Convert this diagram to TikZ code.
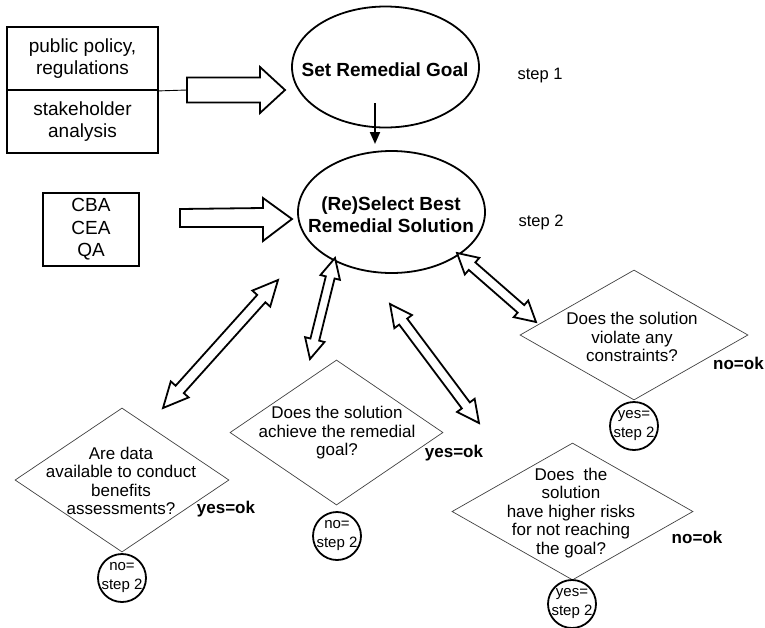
\documentclass[tikz,border=0pt]{standalone}
\usepackage{fontspec}
\setmainfont{Liberation Sans}
\usetikzlibrary{shapes.geometric,calc,arrows.meta}

% hollow two-headed block arrow between two points:
% #1,#2 end points, #3 head length, #4 shaft half width, #5 head half width
\newcommand\dblarrow[5]{%
  \draw[blk] (#1)
    -- ($(#1)!#3!(#2)!#5!90:(#2)$) -- ($(#1)!#3!(#2)!#4!90:(#2)$)
    -- ($(#2)!#3!(#1)!#4!-90:(#1)$) -- ($(#2)!#3!(#1)!#5!-90:(#1)$)
    -- (#2)
    -- ($(#2)!#3!(#1)!#5!90:(#1)$) -- ($(#2)!#3!(#1)!#4!90:(#1)$)
    -- ($(#1)!#3!(#2)!#4!-90:(#2)$) -- ($(#1)!#3!(#2)!#5!-90:(#2)$)
    -- cycle;}

\tikzset{
  inbox/.style={draw, line width=1.8pt, minimum width=151pt, minimum height=63pt,
    inner sep=0pt, align=center, font=\fontsize{19}{21.5}\selectfont},
  oval/.style={draw, ellipse, line width=1.8pt, inner sep=0pt},
  ovaltext/.style={align=center, inner sep=0pt, font=\fontsize{19}{22}\selectfont\bfseries},
  steplabel/.style={inner sep=0pt, font=\fontsize{16.5}{19}\selectfont},
  blk/.style={draw, line width=1.8pt, line join=miter, fill=white},
  dia/.style={draw=black!75, diamond, line width=0.7pt, inner sep=0pt},
  qtext/.style={align=center, inner sep=0pt, font=\fontsize{17}{18.5}\selectfont},
  verdict/.style={inner sep=0pt, font=\fontsize{17}{20}\selectfont\bfseries},
  ring/.style={draw, circle, line width=1.8pt, minimum size=48pt, inner sep=0pt},
  ringtext/.style={align=center, inner sep=0pt, font=\fontsize{15}{19}\selectfont},
}

\begin{document}
\begin{tikzpicture}[x=1pt, y=-1pt]
\useasboundingbox (0,0) rectangle (765,627);

% --- inputs to step 1
\node[inbox] (policy) at (82.5,58.5) {public policy,\\regulations};
\node[inbox] (stake)  at (82.5,121.5) {stakeholder\\analysis};

% --- step 1 goal
\node[oval, minimum width=187pt, minimum height=121pt] (goal) at (385.5,67) {};
\node[ovaltext] (goaltext) at (385,70) {Set Remedial Goal};
\node[steplabel] (step1) at (540,76) {step 1};

% --- step 2 selection
\node[oval, minimum width=187pt, minimum height=122pt] (sel) at (391.5,212) {};
\node[ovaltext] (seltext) at (391,215) {(Re)Select Best\\Remedial Solution};
\node[steplabel] (step2) at (541,222) {step 2};

% --- analysis methods
\node[inbox, minimum width=96pt, minimum height=73pt, font=\fontsize{19}{22.5}\selectfont]
  (methods) at (91,229.5) {CBA\\CEA\\QA};

% --- block arrow: inputs -> goal
\coordinate (t1) at (187,90);
\coordinate (h1) at (285,90);
\draw[line width=0.9pt] (policy.south east) -- (t1);
\draw[blk] ($(t1)+(0,12.5)$) -- ($(h1)+(-25,12.5)$) -- ($(h1)+(-25,23)$) -- (h1)
  -- ($(h1)+(-25,-23)$) -- ($(h1)+(-25,-12.5)$) -- ($(t1)+(0,-12.5)$) -- cycle;

% --- block arrow: methods -> selection
\coordinate (t2) at (180,218);
\coordinate (h2) at (292,219);
\draw[blk] ($(t2)+(0,9)$) -- ($(h2)+(-29,8)$) -- ($(h2)+(-29,22)$) -- (h2)
  -- ($(h2)+(-29,-21)$) -- ($(h2)+(-29,-11)$) -- ($(t2)+(0,-9)$) -- cycle;

% --- goal -> selection
\coordinate (va) at (375,103);
\coordinate (vb) at (375,144);
\draw[line width=2pt, -{Triangle[length=12pt,width=10pt]}] (va) -- (vb);

% --- decision diamonds
\node[dia, minimum width=214pt, minimum height=144pt] (d1) at (122,480) {};
\node[qtext] (q1) at (121,481) {Are data\\available to conduct\\benefits\\assessments?};
\node[verdict] (v1) at (226,509) {yes=ok};
\node[ring] (r1) at (122,578) {};
\node[ringtext] (r1text) at (122,578) {no=\\step 2};

\node[dia, minimum width=213pt, minimum height=145pt] (d2) at (336.5,432.5) {};
\node[qtext] (q2) at (337,433) {Does the solution\\achieve the remedial\\goal?};
\node[verdict] (v2) at (454,453) {yes=ok};
\node[ring] (r2) at (337,536) {};
\node[ringtext] (r2text) at (337,536) {no=\\step 2};

\node[dia, minimum width=228pt, minimum height=130pt] (d3) at (634,335) {};
\node[qtext] (q3) at (632,337) {Does the solution\\violate any\\constraints?};
\node[verdict, anchor=west] (v3) at (713,363) {no=ok};
\node[ring] (r3) at (634,426) {};
\node[ringtext] (r3text) at (634,426) {yes=\\step 2};

\node[dia, minimum width=241pt, minimum height=137pt] (d4) at (572.5,511.5) {};
\node[qtext] (q4) at (571,513) {Does\ \ the\\solution\\have higher risks\\for not reaching\\the goal?};
\node[verdict] (v4) at (697,537) {no=ok};
\node[ring] (r4) at (572,604) {};
\node[ringtext] (r4text) at (572,604) {yes=\\step 2};

% --- two-way links between selection and the checks
\coordinate (a1s) at (278,280);
\coordinate (a1e) at (163,408);
\dblarrow{a1s}{a1e}{25pt}{5.5pt}{12pt}

\coordinate (a2s) at (335,258);
\coordinate (a2e) at (310,359);
\dblarrow{a2s}{a2e}{20pt}{4.5pt}{10pt}

\coordinate (a3s) at (390,304);
\coordinate (a3e) at (479,423);
\dblarrow{a3s}{a3e}{22pt}{5pt}{11pt}

\coordinate (a4s) at (457,253);
\coordinate (a4e) at (536,322);
\dblarrow{a4s}{a4e}{20pt}{5pt}{11pt}

\end{tikzpicture}
\end{document}
